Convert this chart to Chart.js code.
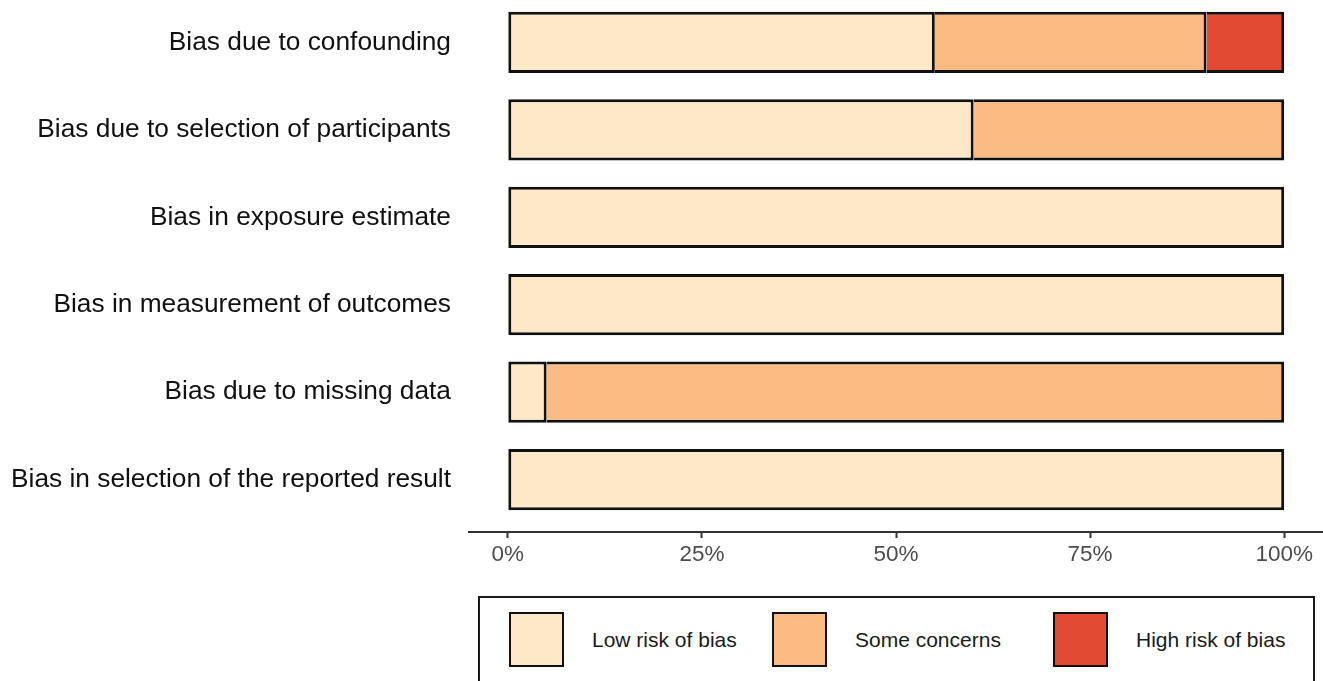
<!DOCTYPE html>
<html>
<head>
<meta charset="utf-8">
<script src="https://cdn.jsdelivr.net/npm/chart.js@4"></script>
<style>
  html, body { margin: 0; padding: 0; background: #fff; overflow: hidden; }
  body { width: 1323px; height: 681px; position: relative; font-family: "Liberation Sans", Arial, Helvetica, sans-serif; }
  #wrap { position: absolute; left: 0; top: -10px; width: 1323px; height: 578px; }
  #legend { position: absolute; left: 478px; top: 596px; width: 837px; height: 92px; box-sizing: border-box;
            border: 2px solid #1a1a1a; display: flex; align-items: flex-start; padding: 14px 0 0 29px; }
  .item { display: flex; align-items: center; height: 55px; }
  .item:nth-child(1) { width: 263px; }
  .item:nth-child(2) { width: 281px; }
  .swatch { width: 55px; height: 55px; box-sizing: border-box; border: 2.5px solid #111; margin-right: 28px; }
  .item span { font-size: 21px; color: #1a1a1a; }
</style>
</head>
<body>
<div id="wrap"><canvas id="chart" width="1323" height="578"></canvas></div>
<div id="legend"></div>
<script>
// Risk of bias domains (top to bottom)
const categories = [
  'Bias due to confounding',
  'Bias due to selection of participants',
  'Bias in exposure estimate',
  'Bias in measurement of outcomes',
  'Bias due to missing data',
  'Bias in selection of the reported result'
];
// percentages of studies
const lowRisk = [55, 60, 100, 100, 5, 100];
const someConcerns = [35, 40, 0, 0, 95, 0];
const highRisk = [10, 0, 0, 0, 0, 0];
const xTicks = [0, 25, 50, 75, 100];

const seriesNames = ['Low risk of bias', 'Some concerns', 'High risk of bias'];
const seriesColors = ['#FEE8C8', '#FDBB84', '#E34A33'];
const seriesValues = [lowRisk, someConcerns, highRisk];

Chart.defaults.font.family = '"Liberation Sans", Arial, Helvetica, sans-serif';

const datasets = seriesValues.map((vals, k) => ({
  label: seriesNames[k],
  data: vals.map((v, i) => ({ x: v, y: i + 1 })),
  backgroundColor: seriesColors[k],
  borderColor: '#111',
  borderWidth: 3,
  borderSkipped: k === 0 ? false : 'start',
  barPercentage: 0.7,
  categoryPercentage: 1
}));

const myChart = new Chart(document.getElementById('chart'), {
  type: 'bar',
  data: { datasets: datasets },
  options: {
    indexAxis: 'y',
    responsive: false,
    animation: false,
    layout: { padding: 0 },
    plugins: { legend: { display: false }, tooltip: { enabled: false } },
    scales: {
      x: {
        type: 'linear', min: -5, max: 105, stacked: true, position: 'bottom',
        grid: { drawOnChartArea: false, drawTicks: true, tickLength: 6, tickWidth: 2, tickColor: '#333' },
        border: { display: true, color: '#333', width: 2 },
        afterBuildTicks: s => { s.ticks = xTicks.map(v => ({ value: v })); },
        ticks: { padding: 3, color: '#4D4D4D', font: { size: 22.5 }, maxRotation: 0, autoSkip: false,
                 callback: v => v + '%' },
        afterFit: s => { s.height = 36; s.paddingLeft = 0; s.paddingRight = 0; }
      },
      y: {
        type: 'linear', min: 0.4, max: 6.6, reverse: true, stacked: true, offset: false,
        grid: { display: false, drawTicks: false, offset: false },
        border: { display: false },
        afterBuildTicks: s => { s.ticks = categories.map((c, i) => ({ value: i + 1 })); },
        ticks: { autoSkip: false, padding: 18, color: '#111', font: { size: 26.3 },
                 callback: v => categories[v - 1] },
        afterFit: s => { s.width = 469; s.paddingTop = 0; s.paddingBottom = 0; }
      }
    }
  }
});

// legend box below the plot
const legend = document.getElementById('legend');
seriesNames.forEach((name, k) => {
  const item = document.createElement('div');
  item.className = 'item';
  item.innerHTML = '<div class="swatch" style="background:' + seriesColors[k] + '"></div><span>' + name + '</span>';
  legend.appendChild(item);
});
</script>
</body>
</html>
